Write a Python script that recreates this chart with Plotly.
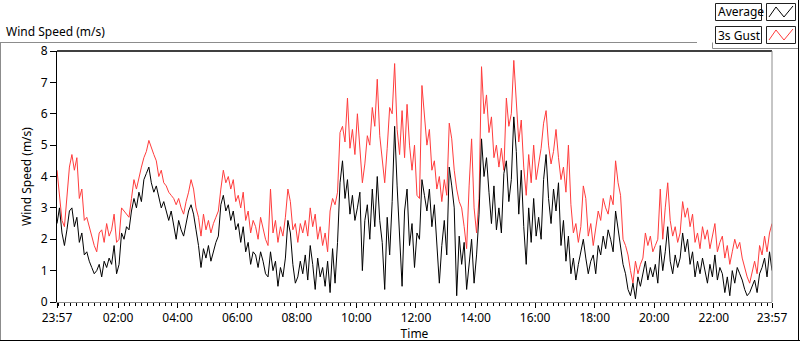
import pandas as pd
import plotly.graph_objects as go

# ---- data (5-minute samples from 23:57 to 23:57 next day) ----
start_time = "2020-01-01 23:57"
end_time = "2020-01-02 23:57"
sample_minutes = 5

gust = [
    4.2, 3.5, 2.6, 2.4, 3.4, 4.3, 4.7, 4.2, 4.6, 3.3,
    3.6, 2.6, 2.7, 2.4, 2.1, 1.8, 1.6, 2.2, 2.3, 1.9,
    2.5, 2.1, 2.3, 2.8, 1.9, 2.0, 3.0, 2.9, 2.8, 2.7,
    3.3, 3.9, 3.6, 4.0, 4.3, 4.6, 4.8, 5.15, 4.9, 4.7,
    4.5, 4.0, 4.2, 3.8, 3.7, 3.5, 3.4, 3.3, 3.1, 3.3,
    3.0, 2.8, 3.2, 3.5, 3.9, 3.6, 3.0, 2.7, 2.1, 2.8,
    2.3, 2.6, 2.2, 2.5, 2.7, 2.9, 3.6, 4.2, 3.8, 4.0,
    3.6, 3.9, 3.2, 3.4, 3.0, 3.5, 2.6, 2.9, 2.2, 2.6,
    2.4, 2.0, 2.7, 2.3, 2.0, 1.8, 3.6, 2.2, 2.6, 1.9,
    2.4, 2.1, 2.7, 3.6, 3.2, 2.3, 2.5, 1.9, 2.5, 2.2,
    2.6, 2.1, 3.0, 2.4, 2.8, 2.0, 2.4, 1.8, 2.2, 1.6,
    2.9, 3.3, 3.1, 3.5, 5.4, 5.6, 5.1, 6.5, 4.9, 5.5,
    4.7, 6.0, 4.9, 3.8, 4.4, 5.3, 5.0, 6.2, 5.6, 7.1,
    5.3, 4.5, 3.8, 4.9, 6.2, 6.0, 7.6, 5.5, 4.7, 6.1,
    4.6, 6.3, 5.0, 4.2, 5.0, 3.4, 3.3, 6.9, 6.0, 5.0,
    5.5, 4.2, 4.5, 3.6, 4.0, 3.2, 3.9, 3.4, 5.7, 5.2,
    4.2, 3.6, 3.2, 3.0, 2.4, 1.7, 3.7, 5.2, 3.0, 2.2,
    3.3, 7.5, 6.0, 6.6, 5.4, 5.9, 4.6, 5.0, 4.3, 4.9,
    4.2, 6.5, 5.6, 6.0, 7.7, 6.3, 5.1, 5.8, 4.3, 3.4,
    4.7, 3.8, 5.0, 3.9, 4.4, 4.9, 5.7, 6.1, 5.0, 4.4,
    4.8, 5.5, 4.6, 3.9, 4.3, 3.5, 5.0, 3.1, 2.2, 2.5,
    1.9, 2.4, 3.7, 3.3, 2.1, 2.5, 1.8, 2.3, 2.9, 2.6,
    3.3, 3.0, 2.8, 3.4, 3.1, 4.5, 3.8, 3.4, 2.0, 1.8,
    1.5, 1.0, 0.6, 1.3, 0.9, 1.2, 1.4, 2.2, 1.8, 2.1,
    1.6, 1.8, 2.0, 3.6, 2.0, 3.0, 3.8, 2.6, 2.1, 2.4,
    1.9, 2.2, 3.2, 2.7, 3.0, 2.4, 2.8, 1.9, 2.2, 1.7,
    2.4, 2.0, 2.3, 1.7, 2.1, 2.5, 1.6, 1.9, 2.1, 1.4,
    1.8, 1.2, 1.6, 2.0, 1.7, 1.9, 1.4, 1.1, 0.8, 0.6,
    1.0, 1.3, 0.9, 1.8, 1.5, 2.1, 1.6, 2.2, 2.5,
]

average = [
    2.5, 3.0, 2.2, 1.8, 2.3, 2.9, 3.0, 2.4, 2.7, 1.9,
    2.2, 1.5, 1.6, 1.3, 1.1, 0.9, 1.0, 1.2, 0.8, 1.3,
    1.1, 1.4, 1.2, 1.8, 0.9, 1.2, 2.2, 2.0, 2.4, 2.3,
    2.9, 3.3, 3.0, 3.5, 3.2, 3.9, 4.1, 4.3, 3.8, 3.5,
    3.7, 3.3, 3.0, 3.2, 2.9, 2.6, 2.9, 2.5, 2.0, 2.6,
    2.3, 2.1, 2.5, 2.9, 3.1, 2.8, 2.3, 1.8, 1.1, 1.7,
    1.4, 1.8, 1.3, 1.6, 1.9, 2.1, 3.1, 3.4, 2.9, 3.1,
    2.6, 2.9, 2.3, 2.5, 1.9, 2.4, 1.6, 1.9, 1.2, 1.6,
    1.5, 1.1, 1.6, 1.3, 0.9, 0.8, 1.6, 1.0, 1.3, 0.5,
    1.1, 0.8, 1.4, 2.6, 2.2, 1.2, 0.6, 0.8, 1.3, 0.9,
    1.5, 0.7, 1.8, 1.2, 0.4, 1.4, 0.8, 1.1, 0.5, 1.3,
    0.3, 1.7, 0.6, 1.9, 3.8, 4.5, 3.3, 3.9, 2.8, 3.4,
    2.6, 3.0, 3.5, 1.0, 2.6, 3.1, 2.0, 3.6, 2.4, 4.0,
    2.6, 1.9, 0.4, 2.7, 1.5, 3.2, 5.6, 3.7, 2.2, 0.5,
    2.9, 3.6, 1.8, 2.5, 1.1, 2.2, 2.0, 3.9, 3.4, 2.9,
    3.6, 2.4, 3.1, 2.0, 0.6, 1.8, 2.6, 1.5, 4.3, 3.7,
    3.0, 0.2, 2.1, 1.2, 1.9, 0.4, 1.1, 2.0, 0.6, 1.5,
    2.8, 5.2, 4.0, 4.6, 3.5, 2.5, 3.7, 2.3, 3.0, 2.2,
    4.1, 4.5, 3.2, 3.9, 5.9, 4.8, 2.8, 4.2, 2.4, 1.2,
    3.0, 1.9, 3.3, 2.1, 2.7, 2.0, 3.9, 4.7, 3.3, 2.5,
    3.6, 2.9, 3.8, 1.8, 2.6, 1.3, 2.1, 0.9, 1.4, 0.7,
    1.2, 1.6, 2.0, 1.4, 0.9, 1.3, 1.5, 0.9, 1.8, 1.5,
    2.1, 1.7, 2.3, 2.0, 1.6, 2.9, 2.3, 1.8, 1.2, 0.9,
    0.4, 0.2, 0.6, 0.1, 0.8, 0.5, 0.9, 1.3, 0.7, 1.1,
    0.8, 1.2, 0.6, 1.8, 1.0, 1.6, 2.4, 1.3, 0.9, 1.5,
    1.1, 1.4, 2.2, 1.6, 2.0, 1.2, 1.6, 0.8, 1.3, 0.9,
    1.4, 1.0, 0.6, 1.2, 0.8, 1.5, 0.7, 1.1, 0.9, 0.3,
    0.8, 0.2, 1.0, 0.6, 1.1, 0.9, 0.7, 0.4, 0.2, 0.3,
    0.5, 0.7, 0.3, 0.9, 1.1, 1.4, 0.8, 1.6, 1.0,
]

tick_times = [
    "2020-01-01 23:57", "2020-01-02 02:00", "2020-01-02 04:00", "2020-01-02 06:00",
    "2020-01-02 08:00", "2020-01-02 10:00", "2020-01-02 12:00", "2020-01-02 14:00",
    "2020-01-02 16:00", "2020-01-02 18:00", "2020-01-02 20:00", "2020-01-02 22:00",
    "2020-01-02 23:57",
]
tick_labels = ["23:57", "02:00", "04:00", "06:00", "08:00", "10:00", "12:00",
               "14:00", "16:00", "18:00", "20:00", "22:00", "23:57"]

times = pd.date_range(start_time, periods=len(gust), freq=f"{sample_minutes}min")

# ---- layout geometry (pixels) ----
W, H = 800, 342
L, R, T, B = 57, 28, 51, 40
PW, PH = W - L - R, H - T - B


def px(x):
    return (x - L) / PW


def py(y):
    return (H - B - y) / PH


FONT = "Noto Sans"
RED = "#FF3C3C"

fig = go.Figure()
fig.add_trace(go.Scatter(x=times, y=gust, mode="lines", name="3s Gust",
                         line=dict(color=RED, width=1)))
fig.add_trace(go.Scatter(x=times, y=average, mode="lines", name="Average",
                         line=dict(color="black", width=1)))

fig.update_layout(
    width=W, height=H,
    margin=dict(l=L, r=R, t=T, b=B),
    plot_bgcolor="white", paper_bgcolor="white",
    font=dict(family=FONT, size=12, color="#000000"),
    showlegend=False,
)

fig.update_xaxes(
    type="date", range=[start_time, end_time],
    tickmode="array", tickvals=tick_times, ticktext=tick_labels,
    ticks="outside", ticklen=5, tickcolor="black", tickwidth=1,
    showgrid=False, zeroline=False,
    showline=True, linecolor="#8c8c8c", linewidth=1,
    minor=dict(tickmode="linear", tick0="2020-01-02 00:00", dtick=12 * 60 * 1000,
               ticks="outside", ticklen=3, tickcolor="black", showgrid=False),
    title=dict(text="Time", standoff=0, font=dict(size=12)),
    automargin=False,
    tickfont=dict(size=12),
)
fig.update_yaxes(
    range=[0, 8], tickmode="linear", tick0=0, dtick=1,
    ticks="outside", ticklen=6, tickcolor="black",
    showgrid=False, zeroline=False,
    showline=True, linecolor="black", linewidth=1,
    title=dict(text="Wind Speed (m/s)", standoff=6, font=dict(size=12)),
    automargin=False,
    tickfont=dict(size=12),
)

shapes = []
# plot frame: top black, right gray
shapes.append(dict(type="line", xref="paper", yref="paper", x0=0, x1=1, y0=1, y1=1,
                   line=dict(color="black", width=1.5)))
shapes.append(dict(type="line", xref="paper", yref="paper", x0=1, x1=1, y0=0, y1=1,
                   line=dict(color="#8c8c8c", width=1)))
# outer control frame
shapes.append(dict(type="line", xref="paper", yref="paper", x0=px(0), x1=px(697),
                   y0=py(42.5), y1=py(42.5), line=dict(color="#8c8c8c", width=1)))
shapes.append(dict(type="line", xref="paper", yref="paper", x0=px(0.5), x1=px(0.5),
                   y0=py(42.5), y1=py(341), line=dict(color="#8c8c8c", width=1)))
shapes.append(dict(type="line", xref="paper", yref="paper", x0=px(0), x1=px(800),
                   y0=py(340.5), y1=py(340.5), line=dict(color="black", width=1)))
shapes.append(dict(type="line", xref="paper", yref="paper", x0=px(798.5), x1=px(798.5),
                   y0=py(0), y1=py(341), line=dict(color="black", width=1)))
# legend frame
shapes.append(dict(type="line", xref="paper", yref="paper", x0=px(712.5), x1=px(712.5),
                   y0=py(42.5), y1=py(48.5), line=dict(color="#8c8c8c", width=1)))
shapes.append(dict(type="line", xref="paper", yref="paper", x0=px(712.5), x1=px(798),
                   y0=py(48.5), y1=py(48.5), line=dict(color="#8c8c8c", width=1)))

# legend boxes
for (y0, y1) in [(3.5, 20.5), (26.5, 43.5)]:
    shapes.append(dict(type="rect", xref="paper", yref="paper",
                       x0=px(715.5), x1=px(761.5), y0=py(y1), y1=py(y0),
                       line=dict(color="#202020", width=1), fillcolor="white"))
    shapes.append(dict(type="rect", xref="paper", yref="paper",
                       x0=px(766.5), x1=px(795.5), y0=py(y1), y1=py(y0),
                       line=dict(color="#202020", width=1), fillcolor="white"))


def zig(yoff, color):
    pts = [(769, 17 + yoff), (776, 7 + yoff), (784, 17 + yoff), (793, 6 + yoff)]
    path = "M " + " L ".join(f"{px(a):.5f},{py(b):.5f}" for a, b in pts)
    return dict(type="path", xref="paper", yref="paper", path=path,
                line=dict(color=color, width=1))


shapes.append(zig(0, "black"))
shapes.append(zig(23, RED))

fig.update_layout(shapes=shapes)

annotations = [
    dict(text="Wind Speed (m/s)", x=px(4), y=py(31), xref="paper", yref="paper",
         xanchor="left", yanchor="middle", showarrow=False, font=dict(size=12)),
    dict(text="Average", x=px(716), y=py(12), xref="paper", yref="paper",
         xanchor="left", yanchor="middle", showarrow=False, font=dict(size=12)),
    dict(text="3s Gust", x=px(716), y=py(35), xref="paper", yref="paper",
         xanchor="left", yanchor="middle", showarrow=False, font=dict(size=12)),
]
fig.update_layout(annotations=annotations)

fig.write_html(
    "out.html",
    config={"displayModeBar": False},
    post_script="document.body.style.margin='0';document.body.style.overflow='hidden';",
)
